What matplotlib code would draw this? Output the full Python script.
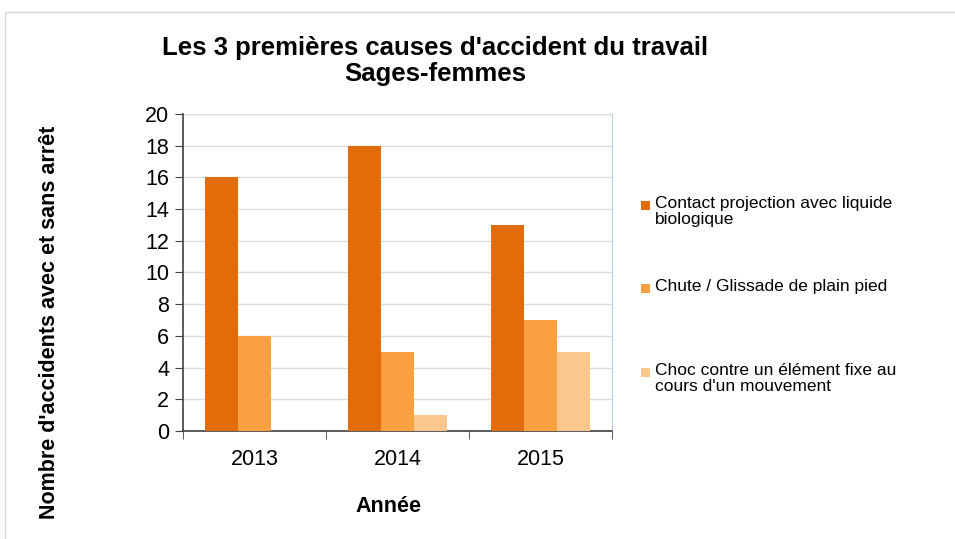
import matplotlib
matplotlib.use('Agg')
import matplotlib.pyplot as plt
from matplotlib.patches import Rectangle
import numpy as np

plt.rcParams['font.family'] = ['Liberation Sans', 'DejaVu Sans']

# data
years = ['2013', '2014', '2015']
causes = ['Contact projection avec liquide\nbiologique',
          'Chute / Glissade de plain pied',
          'Choc contre un élément fixe au\ncours d\'un mouvement']
contact_liquide = [16, 18, 13]
chute_glissade = [6, 5, 7]
choc_element = [0, 1, 5]
colors = ['#E36C0A', '#F9A140', '#FCC78D']

series = [contact_liquide, chute_glissade, choc_element]

W, H = 955, 539
fig = plt.figure(figsize=(9.55, 5.39), dpi=100)
ax = fig.add_axes([0.1916, 0.2004, 0.4492, 0.5881])

# light frame round the whole chart
fig.patches.append(Rectangle((0.005, -0.01), 1.1, 0.988, transform=fig.transFigure,
                             fill=False, edgecolor='#D9D9D9', linewidth=1))

x = np.arange(len(years))
w = 0.23
for i, vals in enumerate(series):
    ax.bar(x + (i - 1) * w, vals, width=w, color=colors[i], zorder=3)

ax.set_xlim(-0.5, 2.5)
ax.set_ylim(0, 20)
ax.set_yticks(range(0, 21, 2))
ax.set_xticks(x)
ax.set_xticklabels(years)
ax.set_xticks([-0.5, 0.5, 1.5, 2.5], minor=True)
ax.tick_params(axis='x', which='major', length=0, labelsize=15.5, pad=13)
ax.tick_params(axis='x', which='minor', length=6, color='#404040', direction='out')
ax.tick_params(axis='y', length=6, labelsize=15.5, color='#404040', pad=4)
ax.grid(axis='y', color='#D5DDE6', linewidth=1, zorder=0)

for s in ['left', 'bottom']:
    ax.spines[s].set_color('#404040')
    ax.spines[s].set_linewidth(1.2)
ax.spines['top'].set_visible(False)
ax.spines['right'].set_color('#B9CDE5')

fig.text(388 / W, 1 - 506 / H, 'Année', ha='center', va='center',
         fontsize=15.5, fontweight='bold')
fig.text(50 / W, 1 - 322 / H, "Nombre d'accidents avec et sans arrêt", ha='center',
         va='center', rotation=90, fontsize=15.5, fontweight='bold')

fig.text(435 / W, 1 - 61 / H, "Les 3 premières causes d'accident du travail\nSages-femmes",
         ha='center', va='center', fontsize=18.5, fontweight='bold', linespacing=1.13)

# legend drawn entry by entry (uneven spacing in the reference)
legend_top = [196, 279, 363]
for c, lab, ty in zip(colors, causes, legend_top):
    fig.patches.append(Rectangle((641 / W, 1 - (ty + 14) / H), 9 / W, 9 / H,
                                 transform=fig.transFigure, facecolor=c, edgecolor='none'))
    fig.text(655 / W, 1 - ty / H, lab, ha='left', va='top', fontsize=12.5, linespacing=1.05)

fig.savefig('out.png', dpi=100)
